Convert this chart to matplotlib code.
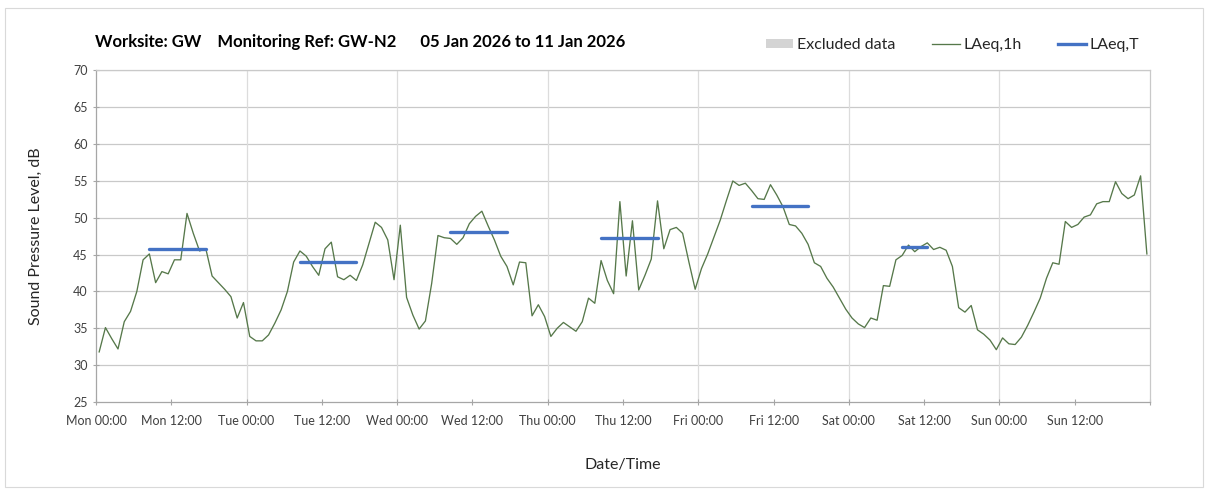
import matplotlib
matplotlib.use("Agg")
import matplotlib.pyplot as plt
from matplotlib.lines import Line2D
from matplotlib.patches import Patch, Rectangle

plt.rcParams["font.family"] = ["Lato", "DejaVu Sans"]

# hourly LAeq,1h, Mon 00:00 .. Sun 23:00 (plotted at the middle of each hour)
laeq_1h = [
    31.8, 35.1, 33.6, 32.2, 35.9, 37.3, 40.0, 44.3, 45.1, 41.2, 42.7, 42.4,
    44.3, 44.3, 50.6, 47.9, 45.5, 45.8, 42.1, 41.2, 40.3, 39.3, 36.4, 38.5,
    33.9, 33.3, 33.3, 34.1, 35.7, 37.5, 40.0, 44.0, 45.5, 44.8, 43.4, 42.2,
    45.8, 46.7, 42.0, 41.6, 42.2, 41.5, 43.6, 46.5, 49.4, 48.7, 47.0, 41.6,
    49.0, 39.2, 36.8, 34.9, 36.0, 41.1, 47.6, 47.3, 47.2, 46.4, 47.3, 49.2,
    50.2, 50.9, 48.9, 47.0, 44.8, 43.4, 40.9, 44.0, 43.9, 36.7, 38.2, 36.6,
    33.9, 35.0, 35.8, 35.2, 34.6, 35.9, 39.1, 38.4, 44.2, 41.5, 39.7, 52.2,
    42.1, 49.6, 40.2, 42.2, 44.4, 52.3, 45.8, 48.4, 48.7, 47.9, 44.0, 40.3,
    43.1, 45.1, 47.4, 49.7, 52.4, 55.0, 54.4, 54.7, 53.7, 52.6, 52.5, 54.5,
    53.1, 51.5, 49.1, 48.9, 47.9, 46.4, 43.9, 43.4, 41.8, 40.6, 39.1, 37.6,
    36.4, 35.6, 35.1, 36.4, 36.1, 40.8, 40.7, 44.3, 44.9, 46.3, 45.4, 46.1,
    46.6, 45.7, 46.0, 45.6, 43.4, 37.8, 37.2, 38.1, 34.8, 34.2, 33.4, 32.1,
    33.7, 32.9, 32.8, 33.8, 35.4, 37.2, 39.1, 41.8, 43.9, 43.7, 49.5, 48.7,
    49.1, 50.1, 50.4, 51.9, 52.2, 52.2, 54.9, 53.3, 52.6, 53.1, 55.7, 45.1,
]
hours = [h + 0.5 for h in range(len(laeq_1h))]

# daytime LAeq,T per day (no Sunday period)
period_start = [8.5, 32.5, 56.5, 80.5, 104.5, 128.5]
period_end = [17.5, 41.5, 65.5, 89.5, 113.5, 132.5]
laeq_t = [45.8, 44.0, 48.1, 47.3, 51.6, 46.0]

days = ["Mon", "Tue", "Wed", "Thu", "Fri", "Sat", "Sun"]
tick_labels = [f"{d} {t}" for d in days for t in ("00:00", "12:00")]

GREEN = "#56784a"
BLUE = "#4472c4"
GRID = "#c9c9c9"
AXIS = "#a6a6a6"
TEXT = "#404040"

fig = plt.figure(figsize=(12.08, 4.93), dpi=100)
fig.patches.append(Rectangle((0.004, 0.012), 0.992, 0.972, transform=fig.transFigure,
                             fill=False, edgecolor="#d9d9d9", linewidth=0.8))
ax = fig.add_axes([0.0795, 0.1846, 0.8725, 0.6724])

ax.plot(hours, laeq_1h, color=GREEN, linewidth=0.95, zorder=3)
for x0, x1, v in zip(period_start, period_end, laeq_t):
    ax.plot([x0, x1], [v, v], color=BLUE, linewidth=2.4,
            solid_capstyle="round", zorder=4)

ax.set_xlim(0, 168)
ax.set_ylim(25, 70)
ax.set_yticks(range(25, 71, 5))
ax.set_xticks(range(0, 169, 12))
ax.set_xticklabels(tick_labels + [""])
ax.tick_params(axis="both", labelsize=9, labelcolor=TEXT, color=AXIS,
               direction="inout", length=5, width=0.8)
ax.tick_params(axis="x", pad=7)

for v in range(30, 71, 5):
    ax.axhline(v, color=GRID, linewidth=0.9, zorder=1)
for d in range(24, 168, 24):
    ax.axvline(d, color="#dcdcdc", linewidth=0.9, zorder=1)

for side in ("left", "bottom", "right", "top"):
    ax.spines[side].set_color(AXIS)
    ax.spines[side].set_linewidth(0.9)
ax.spines["top"].set_color(GRID)
ax.spines["right"].set_color(GRID)

ax.set_ylabel("Sound Pressure Level, dB", fontsize=11.5, color="#262626", labelpad=22)
ax.set_xlabel("Date/Time", fontsize=11.5, color="#262626", labelpad=22)

fig.text(0.0785, 0.915, "Worksite: GW    Monitoring Ref: GW-N2      05 Jan 2026 to 11 Jan 2026",
         fontsize=12, fontweight="bold", color="black", va="center")

handles = [
    Patch(facecolor="#d4d4d4", edgecolor="none", label="Excluded data"),
    Line2D([], [], color=GREEN, linewidth=0.95, label="LAeq,1h"),
    Line2D([], [], color=BLUE, linewidth=2.4, label="LAeq,T"),
]
fig.legend(handles=handles, loc="center right", bbox_to_anchor=(0.955, 0.909),
           ncol=3, frameon=False, fontsize=11.5, handlelength=1.7, handleheight=0.5,
           handletextpad=0.25, columnspacing=2.3, labelcolor="#262626")

fig.savefig("out.png", dpi=100)
